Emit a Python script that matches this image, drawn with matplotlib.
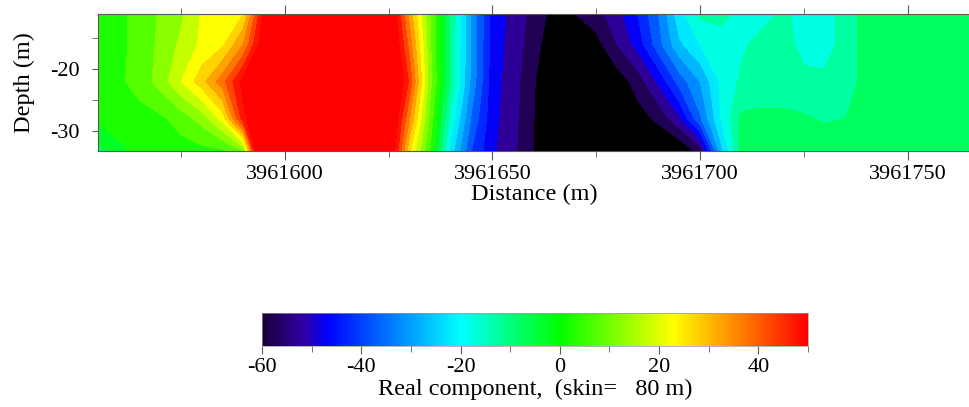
import numpy as np
import matplotlib
matplotlib.use('Agg')
import matplotlib.pyplot as plt
from matplotlib.colors import LinearSegmentedColormap, Normalize
from matplotlib.cm import ScalarMappable
from matplotlib.ticker import MultipleLocator

#--- DATA

# station positions along the profile (m) and depths of the model rows (m)
STATIONS = [3961555 + 5 * k for k in range(43)]
DEPTHS = [-11.1, -16, -22, -28, -33.2]

# real component values, one list per depth row (top to bottom)
ROW_11 = [2, 3.5, 7, 10.5, 14, 20.5, 22, 25, 52, 62, 65, 65, 65, 62, 60,
          33, 10, -11, -31, -47, -51.6, -57, -62, -60, -57, -52, -45, -35,
          -22, -14, -13, -17, -17, -14, -17, -17, -13, -8, -7, -7, -7, -7, -7]
ROW_16 = [2, 3.5, 7, 11, 16, 21, 24, 35, 55, 62, 65, 65, 65, 63, 62,
          38, 10.7, -11.2, -31.3, -47.4, -52.2, -58, -64, -63, -62, -55, -48, -37,
          -26, -20, -18, -16, -13, -12.5, -17, -17, -13, -8, -7, -7, -7, -7, -7]
ROW_22 = [2, 4, 7, 12, 20, 28, 38, 52, 60, 65, 68, 68, 68, 66, 65,
          44, 11.6, -11.4, -31.7, -47.9, -52.8, -59.7, -65, -65, -65, -63, -58, -49,
          -38, -30, -19, -14, -12.5, -12.5, -13.5, -14, -13, -8, -7, -7, -7, -7, -7]
ROW_28 = [1, 2, 3, 4, 7, 12, 22, 48, 60, 65, 68, 68, 68, 66, 62,
          35, 8, -17, -36, -48.5, -53.4, -60, -65, -65, -65, -65, -62, -59,
          -51, -36, -20, -9, -9, -9, -9.5, -10.5, -10, -8, -7, -7, -7, -7, -7]
ROW_33 = [-7, -1, 1, 2, 3, 3.5, 4, 10, 80, 70, 70, 70, 68, 65, 60,
          26, 4.4, -22.6, -40.2, -49.2, -54, -60.3, -65, -65, -65, -65, -65, -65,
          -65, -58, -27, -8, -7, -7, -7, -7, -7, -7, -7, -7, -7, -7, -7]

X_TICKS = [3961600, 3961650, 3961700, 3961750]
CBAR_TICKS = [-60, -40, -20, 0, 20, 40]
VMIN, VMAX = -60, 50

#--- STYLE PARAMS

plt.rcParams['font.family'] = ['Liberation Serif', 'DejaVu Serif']
plt.rcParams['axes.unicode_minus'] = False
FONT_SIZE = 16
LABEL_SIZE = 17.5
TICK_COLOR = '0.35'

cmap = LinearSegmentedColormap.from_list('rc', [
    (0.0, '#1a0038'),
    (8 / 110., '#3000a0'),
    (13 / 110., '#0000ff'),
    (40 / 110., '#00ffff'),
    (60 / 110., '#00ff00'),
    (83 / 110., '#ffff00'),
    (1.0, '#ff0000')])
cmap.set_under('black')
cmap.set_over('red')
norm = Normalize(VMIN, VMAX)


def main():
    fig = plt.figure(figsize=(9.70, 4.07), dpi=100)
    ax = fig.add_axes([98 / 970., 1 - 151 / 407., 872 / 970., 137 / 407.])

    X, Y = np.meshgrid(STATIONS, DEPTHS)
    Z = np.array([ROW_11, ROW_16, ROW_22, ROW_28, ROW_33])
    levels = np.arange(VMIN, VMAX + 1, 5)
    ax.contourf(X, Y, Z, levels=levels, cmap=cmap, norm=norm, extend='both')

    ax.set_xlim(3961555, 3961765)
    ax.set_ylim(-33.2, -11.1)
    ax.set_xticks(X_TICKS)
    ax.set_xticklabels([str(t) for t in X_TICKS])
    ax.xaxis.set_minor_locator(MultipleLocator(25))
    ax.set_yticks([-20, -30])
    ax.yaxis.set_minor_locator(MultipleLocator(5))
    ax.tick_params(which='both', direction='out', top=True, right=False,
                   color=TICK_COLOR, labelsize=FONT_SIZE)
    ax.tick_params(axis='x', which='major', length=6.5, pad=3.5)
    ax.tick_params(axis='x', which='minor', length=4)
    ax.tick_params(axis='y', which='major', length=4.5, pad=8.5)
    ax.tick_params(axis='y', which='minor', length=4)
    for sp in ax.spines.values():
        sp.set_color(TICK_COLOR)
        sp.set_linewidth(0.8)
    ax.set_xlabel('Distance (m)', fontsize=LABEL_SIZE, labelpad=0)
    ax.set_ylabel('Depth (m)', fontsize=LABEL_SIZE, labelpad=11)

    # colour bar
    cax = fig.add_axes([262 / 970., 1 - 346 / 407., 546 / 970., 33 / 407.])
    cb = fig.colorbar(ScalarMappable(norm=norm, cmap=cmap), cax=cax,
                      orientation='horizontal')
    cb.set_ticks(CBAR_TICKS)
    cb.set_ticklabels([str(t) for t in CBAR_TICKS])
    cax.xaxis.set_minor_locator(MultipleLocator(10))
    cax.tick_params(which='both', direction='out', color=TICK_COLOR,
                    labelsize=FONT_SIZE)
    cax.tick_params(which='major', length=6, pad=3)
    cax.tick_params(which='minor', length=4)
    cb.outline.set_linewidth(0.5)
    cb.outline.set_edgecolor('0.6')
    cb.set_label('Real component,  (skin=   80 m)', fontsize=LABEL_SIZE,
                 labelpad=1)

    fig.savefig('out.png', dpi=100)


if __name__ == '__main__':
    main()
